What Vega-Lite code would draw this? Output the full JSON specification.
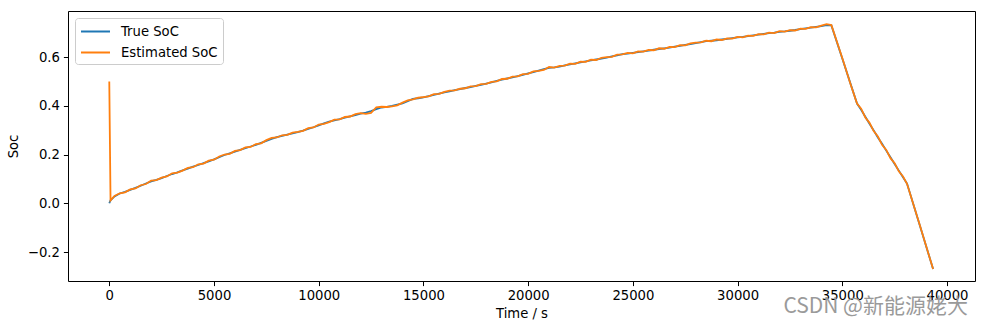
{
  "$schema": "https://vega.github.io/schema/vega-lite/v6.json",
  "width": 907,
  "height": 270,
  "autosize": "none",
  "padding": {"left": 68, "top": 11, "right": 8, "bottom": 45},
  "background": "white",
  "config": {
    "font": "DejaVu Sans",
    "view": {"stroke": "black", "strokeWidth": 1},
    "axis": {
      "domain": false, "grid": false, "tickColor": "black", "tickSize": 4.6, "tickWidth": 1,
      "labelColor": "black", "titleColor": "black", "labelFontSize": 13.2, "titleFontSize": 13.2,
      "labelFont": "DejaVu Sans", "titleFont": "DejaVu Sans", "titleFontWeight": "normal", "labelPadding": 4
    }
  },
  "title": {
    "text": "CSDN @新能源姥大", "orient": "bottom", "anchor": "end", "font": "Noto Sans CJK SC",
    "fontSize": 21, "fontWeight": "normal", "color": "#9a9a9a", "offset": -24, "dx": -7
  },
  "data": {"values": [
    {"t":0,"b":0.000,"o":0.500},{"t":60,"b":0.012,"o":0.012},{"t":250,"b":0.028,"o":0.030},{"t":500,"b":0.040,"o":0.041},
    {"t":750,"b":0.047,"o":0.045},{"t":1000,"b":0.055,"o":0.057},{"t":1250,"b":0.063,"o":0.061},{"t":1500,"b":0.072,"o":0.074},
    {"t":1750,"b":0.081,"o":0.079},{"t":2000,"b":0.090,"o":0.093},{"t":2250,"b":0.096,"o":0.095},{"t":2500,"b":0.103,"o":0.105},
    {"t":2750,"b":0.112,"o":0.110},{"t":3000,"b":0.120,"o":0.123},{"t":3250,"b":0.127,"o":0.126},{"t":3500,"b":0.135,"o":0.134},
    {"t":3750,"b":0.142,"o":0.145},{"t":4000,"b":0.150,"o":0.148},{"t":4250,"b":0.157,"o":0.160},{"t":4500,"b":0.165,"o":0.163},
    {"t":4750,"b":0.172,"o":0.175},{"t":5000,"b":0.180,"o":0.179},{"t":5250,"b":0.189,"o":0.192},{"t":5500,"b":0.198,"o":0.200},
    {"t":5750,"b":0.205,"o":0.203},{"t":6000,"b":0.212,"o":0.215},{"t":6250,"b":0.219,"o":0.218},{"t":6500,"b":0.226,"o":0.229},
    {"t":6750,"b":0.233,"o":0.231},{"t":7000,"b":0.240,"o":0.243},{"t":7250,"b":0.248,"o":0.246},{"t":7500,"b":0.256,"o":0.259},
    {"t":7750,"b":0.264,"o":0.268},{"t":8000,"b":0.271,"o":0.270},{"t":8250,"b":0.277,"o":0.279},{"t":8500,"b":0.282,"o":0.281},
    {"t":8750,"b":0.287,"o":0.290},{"t":9000,"b":0.292,"o":0.293},{"t":9250,"b":0.298,"o":0.297},{"t":9500,"b":0.305,"o":0.308},
    {"t":9750,"b":0.312,"o":0.311},{"t":10000,"b":0.320,"o":0.323},{"t":10250,"b":0.328,"o":0.326},{"t":10500,"b":0.335,"o":0.333},
    {"t":10750,"b":0.340,"o":0.343},{"t":11000,"b":0.345,"o":0.344},{"t":11250,"b":0.351,"o":0.354},{"t":11500,"b":0.357,"o":0.356},
    {"t":11750,"b":0.362,"o":0.366},{"t":12000,"b":0.368,"o":0.370},{"t":12250,"b":0.372,"o":0.367},{"t":12500,"b":0.378,"o":0.371},
    {"t":12750,"b":0.386,"o":0.394},{"t":13000,"b":0.393,"o":0.396},{"t":13250,"b":0.396,"o":0.395},{"t":13500,"b":0.400,"o":0.398},
    {"t":13750,"b":0.405,"o":0.402},{"t":14000,"b":0.410,"o":0.413},{"t":14250,"b":0.419,"o":0.422},{"t":14500,"b":0.428,"o":0.426},
    {"t":14750,"b":0.431,"o":0.433},{"t":15000,"b":0.435,"o":0.436},{"t":15250,"b":0.440,"o":0.439},{"t":15500,"b":0.445,"o":0.448},
    {"t":15750,"b":0.450,"o":0.449},{"t":16000,"b":0.455,"o":0.457},{"t":16250,"b":0.459,"o":0.462},{"t":16500,"b":0.464,"o":0.463},
    {"t":16750,"b":0.468,"o":0.470},{"t":17000,"b":0.473,"o":0.472},{"t":17250,"b":0.477,"o":0.480},{"t":17500,"b":0.482,"o":0.481},
    {"t":17750,"b":0.486,"o":0.489},{"t":18000,"b":0.491,"o":0.490},{"t":18250,"b":0.496,"o":0.498},{"t":18500,"b":0.502,"o":0.500},
    {"t":18750,"b":0.507,"o":0.510},{"t":19000,"b":0.512,"o":0.511},{"t":19250,"b":0.517,"o":0.520},{"t":19500,"b":0.522,"o":0.521},
    {"t":19750,"b":0.527,"o":0.530},{"t":20000,"b":0.533,"o":0.531},{"t":20250,"b":0.538,"o":0.541},{"t":20500,"b":0.544,"o":0.543},
    {"t":20750,"b":0.550,"o":0.547},{"t":21000,"b":0.556,"o":0.559},{"t":21250,"b":0.558,"o":0.557},{"t":21500,"b":0.561,"o":0.564},
    {"t":21750,"b":0.566,"o":0.565},{"t":22000,"b":0.570,"o":0.573},{"t":22250,"b":0.574,"o":0.572},{"t":22500,"b":0.578,"o":0.581},
    {"t":22750,"b":0.582,"o":0.580},{"t":23000,"b":0.586,"o":0.589},{"t":23250,"b":0.590,"o":0.588},{"t":23500,"b":0.594,"o":0.597},
    {"t":23750,"b":0.598,"o":0.600},{"t":24000,"b":0.603,"o":0.601},{"t":24250,"b":0.607,"o":0.610},{"t":24500,"b":0.612,"o":0.611},
    {"t":24750,"b":0.614,"o":0.617},{"t":25000,"b":0.617,"o":0.615},{"t":25250,"b":0.620,"o":0.623},{"t":25500,"b":0.623,"o":0.622},
    {"t":25750,"b":0.626,"o":0.629},{"t":26000,"b":0.630,"o":0.628},{"t":26250,"b":0.633,"o":0.636},{"t":26500,"b":0.636,"o":0.634},
    {"t":26750,"b":0.639,"o":0.642},{"t":27000,"b":0.643,"o":0.641},{"t":27250,"b":0.646,"o":0.649},{"t":27500,"b":0.650,"o":0.648},
    {"t":27750,"b":0.653,"o":0.656},{"t":28000,"b":0.657,"o":0.659},{"t":28250,"b":0.661,"o":0.660},{"t":28500,"b":0.665,"o":0.667},
    {"t":28750,"b":0.667,"o":0.665},{"t":29000,"b":0.669,"o":0.672},{"t":29250,"b":0.672,"o":0.670},{"t":29500,"b":0.675,"o":0.677},
    {"t":29750,"b":0.678,"o":0.676},{"t":30000,"b":0.681,"o":0.683},{"t":30250,"b":0.683,"o":0.681},{"t":30500,"b":0.686,"o":0.688},
    {"t":30750,"b":0.689,"o":0.687},{"t":31000,"b":0.692,"o":0.694},{"t":31250,"b":0.695,"o":0.693},{"t":31500,"b":0.698,"o":0.700},
    {"t":31750,"b":0.700,"o":0.698},{"t":32000,"b":0.703,"o":0.706},{"t":32250,"b":0.705,"o":0.704},{"t":32500,"b":0.708,"o":0.710},
    {"t":32750,"b":0.711,"o":0.709},{"t":33000,"b":0.715,"o":0.717},{"t":33250,"b":0.718,"o":0.716},{"t":33500,"b":0.721,"o":0.723},
    {"t":33750,"b":0.724,"o":0.722},{"t":34000,"b":0.727,"o":0.729},{"t":34250,"b":0.731,"o":0.735},{"t":34480,"b":0.730,"o":0.731},
    {"t":35000,"b":0.594,"o":0.596},{"t":35400,"b":0.489,"o":0.487},{"t":35704,"b":0.409,"o":0.409},{"t":35900,"b":0.384,"o":0.388},
    {"t":36100,"b":0.355,"o":0.352},{"t":36300,"b":0.326,"o":0.330},{"t":36500,"b":0.299,"o":0.296},{"t":36700,"b":0.270,"o":0.274},
    {"t":36900,"b":0.244,"o":0.240},{"t":37100,"b":0.216,"o":0.219},{"t":37300,"b":0.189,"o":0.185},{"t":37500,"b":0.161,"o":0.164},
    {"t":37700,"b":0.134,"o":0.131},{"t":37900,"b":0.107,"o":0.110},{"t":38091,"b":0.081,"o":0.080},{"t":38700,"b":-0.090,"o":-0.089},
    {"t":39336,"b":-0.270,"o":-0.270}
  ]},
  "transform": [{"fold": ["b", "o"], "as": ["key", "soc"]}],
  "encoding": {
    "x": {"field": "t", "type": "quantitative", "scale": {"domain": [-1971, 41337], "nice": false, "zero": false},
      "axis": {"values": [0,5000,10000,15000,20000,25000,30000,35000,40000], "format": "d", "title": "Time / s", "titlePadding": 6}},
    "y": {"field": "soc", "type": "quantitative", "scale": {"domain": [-0.319, 0.789], "nice": false, "zero": false},
      "axis": {"values": [-0.2,0,0.2,0.4,0.6], "format": ".1f", "title": "Soc", "titlePadding": 7}},
    "color": {"field": "series", "type": "nominal",
      "scale": {"domain": ["True SoC", "Estimated SoC"], "range": ["#1f77b4", "#ff7f0e"]},
      "legend": {"orient": "none", "legendX": 7, "legendY": 7, "title": null, "symbolType": "M-2,0H2",
        "symbolStrokeWidth": 2, "symbolSize": 210, "symbolOffset": 7, "labelFontSize": 13.2, "labelFont": "DejaVu Sans", "labelColor": "black",
        "fillColor": "white", "strokeColor": "#cccccc", "padding": 5, "cornerRadius": 3, "rowPadding": 6, "labelOffset": 17}}
  },
  "layer": [
    {"transform": [{"filter": "datum.key === 'b'"}, {"calculate": "'True SoC'", "as": "series"}],
     "mark": {"type": "line", "strokeWidth": 1.8}},
    {"transform": [{"filter": "datum.key === 'o'"}, {"calculate": "'Estimated SoC'", "as": "series"}],
     "mark": {"type": "line", "strokeWidth": 1.8}}
  ]
}
